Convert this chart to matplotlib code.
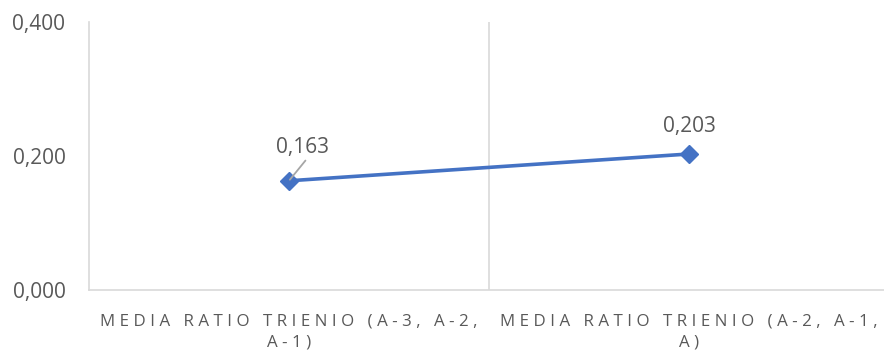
import matplotlib.pyplot as plt

categories = ['MEDIA RATIO TRIENIO (A-3, A-2,\nA-1)',
              'MEDIA RATIO TRIENIO (A-2, A-1,\nA)']
values = [0.163, 0.203]
yticks = [0.0, 0.2, 0.4]

blue = '#4472C4'
grey_txt = '#595959'
grid = '#D9D9D9'

def spaced(s):
    # widen the letter spacing with thin spaces between characters
    out = []
    for line in s.split('\n'):
        out.append('\u2009\u200a'.join(line))
    return '\n'.join(out)

def fmt(v):
    return '{:.3f}'.format(v).replace('.', ',')

plt.rcParams['font.family'] = ['Open Sans', 'DejaVu Sans']

fig = plt.figure(figsize=(8.84, 3.53), dpi=100)
ax = fig.add_axes([89/884, 63/353, 800/884, 268/353])

x = list(range(len(categories)))
ax.plot(x, values, color=blue, lw=2.6, marker='D', markersize=9.5,
        solid_capstyle='round', zorder=3)

ax.set_xlim(-0.5, len(categories) - 0.5)
ax.set_ylim(0, 0.4)
ax.set_yticks(yticks)
ax.set_yticklabels([fmt(v) for v in yticks], fontsize=15, color=grey_txt)
ax.set_xticks(x)
ax.set_xticklabels([spaced(c) for c in categories], fontsize=12.2,
                   color=grey_txt, linespacing=1.4)
ax.tick_params(axis='both', length=0)
ax.tick_params(axis='y', pad=17)
ax.tick_params(axis='x', pad=17)

for s in ['top', 'right']:
    ax.spines[s].set_visible(False)
for s in ['left', 'bottom']:
    ax.spines[s].set_color(grid)
    ax.spines[s].set_linewidth(1.2)
for k in range(1, len(categories)):
    ax.axvline(k - 0.5, color=grid, lw=1.2, zorder=1)

# first label sits up and to the right with a leader line
ax.annotate(fmt(values[0]), xy=(x[0], values[0]), xytext=(x[0] + 0.033, values[0] + 0.05),
            ha='center', va='center', fontsize=15, color=grey_txt,
            arrowprops=dict(arrowstyle='-', color='#A6A6A6', lw=1.3,
                            relpos=(0.62, 0.05), shrinkA=0, shrinkB=1))
ax.annotate(fmt(values[1]), xy=(x[1], values[1]), xytext=(0, 20),
            textcoords='offset points', ha='center', va='center',
            fontsize=15, color=grey_txt)

fig.savefig('out.png', dpi=100)
